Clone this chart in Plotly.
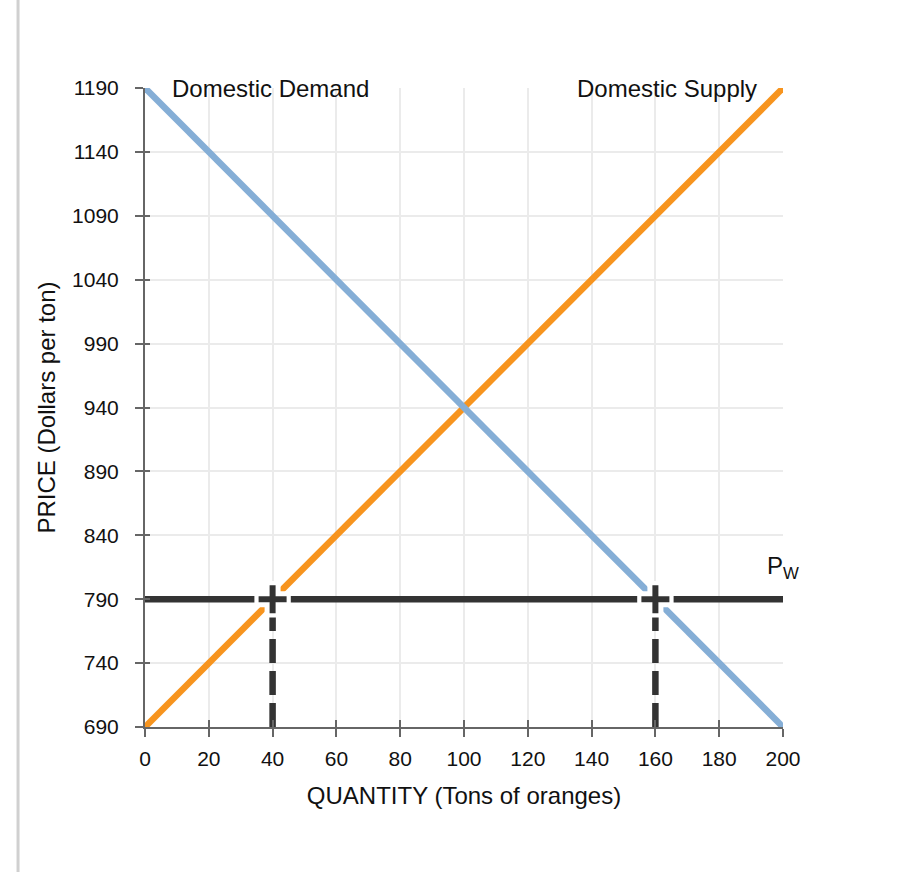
import plotly.graph_objects as go

# ---- data ----
quantity_range = [0, 200]
price_range = [690, 1190]
supply_q = [0, 200]
supply_p = [690, 1190]
demand_q = [0, 200]
demand_p = [1190, 690]
world_price = 790
import_points_q = [40, 160]
x_ticks = [0, 20, 40, 60, 80, 100, 120, 140, 160, 180, 200]
y_ticks = [690, 740, 790, 840, 890, 940, 990, 1040, 1090, 1140, 1190]

ORANGE = "#F7941E"
BLUE = "#85AED6"
DARK = "#333333"
AXIS = "#666666"
GRID = "#EBEBEB"
FONT = "Liberation Sans, Arial, sans-serif"

fig = go.Figure()

fig.add_trace(go.Scatter(x=supply_q, y=supply_p, mode="lines",
                         line=dict(color=ORANGE, width=6.5), hoverinfo="skip", showlegend=False))
fig.add_trace(go.Scatter(x=demand_q, y=demand_p, mode="lines",
                         line=dict(color=BLUE, width=6.5), hoverinfo="skip", showlegend=False))
# world price line
fig.add_trace(go.Scatter(x=quantity_range, y=[world_price, world_price], mode="lines",
                         line=dict(color=DARK, width=6.5), hoverinfo="skip", showlegend=False))
# vertical dashed lines
for q in import_points_q:
    fig.add_trace(go.Scatter(x=[q, q], y=[price_range[0], world_price], mode="lines",
                             line=dict(color=DARK, width=6.5, dash="24px,8px"),
                             hoverinfo="skip", showlegend=False))
# white halo crosses
fig.add_trace(go.Scatter(x=import_points_q, y=[world_price] * 2, mode="markers",
                         marker=dict(symbol="cross-thin", size=26, color="white",
                                     line=dict(color="white", width=16)),
                         cliponaxis=False, hoverinfo="skip", showlegend=False))
# dark crosses
fig.add_trace(go.Scatter(x=import_points_q, y=[world_price] * 2, mode="markers",
                         marker=dict(symbol="cross-thin", size=20, color=DARK,
                                     line=dict(color=DARK, width=6)),
                         cliponaxis=False, hoverinfo="skip", showlegend=False))
# invisible trace on overlay axes (for inside tick halves)
fig.add_trace(go.Scatter(x=[None], y=[None], xaxis="x2", yaxis="y2", mode="lines",
                         hoverinfo="skip", showlegend=False))

fig.update_layout(
    width=924, height=872,
    margin=dict(l=145, r=141, t=88, b=145),
    paper_bgcolor="white", plot_bgcolor="white",
    font=dict(family=FONT, color="#111111"),
    xaxis=dict(range=quantity_range, tickvals=x_ticks, ticks="outside", ticklen=8,
               tickwidth=2, tickcolor=AXIS, showline=True, linecolor=AXIS, linewidth=2,
               showgrid=True, gridcolor=GRID, gridwidth=2, zeroline=False,
               tickfont=dict(size=21, color="#111111"), ticklabelstandoff=4,
               title=dict(text="QUANTITY (Tons of oranges)", font=dict(size=24), standoff=18)),
    yaxis=dict(range=price_range, tickvals=y_ticks, ticks="outside", ticklen=8,
               tickwidth=2, tickcolor=AXIS, showline=True, linecolor=AXIS, linewidth=2,
               showgrid=True, gridcolor=GRID, gridwidth=2, zeroline=False,
               tickfont=dict(size=21, color="#111111"), ticklabelstandoff=12,
               title=dict(text="PRICE (Dollars per ton)", font=dict(size=24), standoff=10)),
    xaxis2=dict(overlaying="x", anchor="y", range=quantity_range, tickvals=x_ticks,
                ticks="inside", ticklen=7, tickwidth=2, tickcolor=AXIS,
                showticklabels=False, showgrid=False, showline=False, zeroline=False),
    yaxis2=dict(overlaying="y", anchor="x", range=price_range, tickvals=y_ticks,
                ticks="inside", ticklen=5, tickwidth=2, tickcolor=AXIS,
                showticklabels=False, showgrid=False, showline=False, zeroline=False),
    annotations=[
        dict(x=7.8, y=1190, text="Domestic Demand", showarrow=False, xanchor="left",
             yanchor="middle", font=dict(size=24, color="#111111")),
        dict(x=192.5, y=1190, text="Domestic Supply", showarrow=False, xanchor="right",
             yanchor="middle", font=dict(size=24, color="#111111")),
        dict(x=194.5, y=815, text="P<sub>W</sub>", showarrow=False, xanchor="left",
             yanchor="middle", font=dict(size=24, color="#111111")),
    ],
    shapes=[
        dict(type="line", xref="paper", yref="paper", x0=-0.199, x1=-0.199,
             y0=-0.24, y1=1.15, line=dict(color="#D0D0D0", width=3)),
    ],
)

fig.write_html(
    "out.html",
    config={"displayModeBar": False},
    post_script="document.body.style.margin='0';"
                "document.documentElement.style.overflow='hidden';",
)
